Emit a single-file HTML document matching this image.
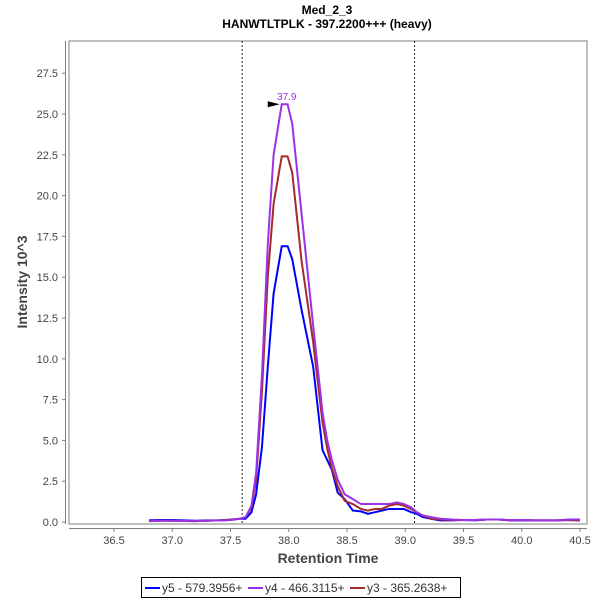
<!DOCTYPE html>
<html><head><meta charset="utf-8"><style>
body{margin:0;background:#fff;}
text{font-family:"Liberation Sans",sans-serif;}
</style></head><body>
<svg id="chart" width="600" height="600" xmlns="http://www.w3.org/2000/svg">
<rect width="600" height="600" fill="#fff"/>
<text x="327" y="14" font-size="12" font-weight="bold" text-anchor="middle">Med_2_3</text>
<text x="327" y="28" font-size="12" font-weight="bold" text-anchor="middle">HANWTLTPLK - 397.2200+++ (heavy)</text>
<rect x="69" y="41" width="518" height="483" fill="#fff" stroke="#808080" stroke-width="1"/>
<line x1="65.5" y1="41" x2="65.5" y2="524" stroke="#808080"/>
<line x1="69" y1="528.5" x2="587" y2="528.5" stroke="#808080"/>
<g id="yticks"></g><g id="xticks"></g>
<text x="328" y="563" font-size="14" font-weight="bold" fill="#444" text-anchor="middle">Retention Time</text>
<text transform="translate(27,282) rotate(-90)" font-size="14" font-weight="bold" fill="#444" text-anchor="middle">Intensity 10^3</text>
<g id="markers"></g>
<g id="series"></g>
<g>
<rect x="141.5" y="577.5" width="319" height="20" fill="#fff" stroke="#000"/>
<line x1="145" y1="588" x2="160" y2="588" stroke="#0000ff" stroke-width="2"/>
<text x="162" y="592" font-size="12" fill="#333">y5 - 579.3956+</text>
<line x1="248" y1="588" x2="263" y2="588" stroke="#9a32e6" stroke-width="2"/>
<text x="265" y="592" font-size="12" fill="#333">y4 - 466.3115+</text>
<line x1="350" y1="588" x2="365" y2="588" stroke="#a52a2a" stroke-width="2"/>
<text x="367" y="592" font-size="12" fill="#333">y3 - 365.2638+</text>
</g>
</svg>
<script>
const times=[36.80,36.9,37.0,37.1,37.2,37.3,37.4,37.5,37.58,37.63,37.68,37.72,37.77,37.82,37.87,37.94,37.99,38.03,38.11,38.21,38.29,38.33,38.37,38.42,38.48,38.55,38.62,38.68,38.74,38.80,38.86,38.93,38.99,39.05,39.10,39.15,39.22,39.30,39.40,39.50,39.60,39.70,39.80,39.90,40.00,40.10,40.20,40.30,40.40,40.50];
const y5=[0.1,0.12,0.12,0.1,0.08,0.1,0.1,0.12,0.2,0.2,0.6,1.7,4.6,9.5,14.0,16.9,16.9,16.1,13.0,9.5,4.4,3.8,3.2,1.8,1.4,0.7,0.65,0.5,0.6,0.7,0.8,0.8,0.8,0.6,0.5,0.3,0.2,0.1,0.1,0.12,0.1,0.15,0.15,0.1,0.1,0.1,0.1,0.1,0.12,0.1];
const y4=[0.05,0.08,0.08,0.06,0.05,0.08,0.1,0.12,0.2,0.3,1.0,3.0,9.0,17.0,22.5,25.6,25.6,24.4,18.9,12.0,6.7,5.0,3.8,2.6,1.7,1.4,1.1,1.1,1.1,1.1,1.1,1.2,1.1,0.9,0.6,0.4,0.3,0.2,0.15,0.12,0.12,0.15,0.15,0.12,0.12,0.1,0.1,0.1,0.15,0.15];
const y3=[0.05,0.08,0.08,0.06,0.05,0.08,0.1,0.15,0.2,0.3,0.9,2.6,8.0,15.0,19.5,22.4,22.4,21.4,16.0,11.0,6.1,4.5,3.3,2.2,1.3,1.1,0.8,0.7,0.8,0.8,1.0,1.1,1.0,0.8,0.6,0.4,0.2,0.15,0.12,0.12,0.12,0.15,0.15,0.1,0.12,0.1,0.1,0.1,0.12,0.1];
const xTicks=["36.5","37.0","37.5","38.0","38.5","39.0","39.5","40.0","40.5"];
const yTicks=["0.0","2.5","5.0","7.5","10.0","12.5","15.0","17.5","20.0","22.5","25.0","27.5"];
const boundaries=[37.6,39.08];
const peakLabel=["37.9"];
const NS="http://www.w3.org/2000/svg";
function X(t){return 114+(t-36.5)*116.5;}
function Y(v){return 522-v*16.32;}
function el(tag,attrs,parent){const e=document.createElementNS(NS,tag);for(const k in attrs)e.setAttribute(k,attrs[k]);parent.appendChild(e);return e;}
const yt=document.getElementById('yticks'),xt=document.getElementById('xticks');
yTicks.forEach(s=>{const y=Y(parseFloat(s));
 const l=el('line',{x1:62,x2:65,y1:y,y2:y,stroke:'#808080'},yt);
 
 
 const t=el('text',{x:58,y:y+4,'font-size':11,fill:'#444','text-anchor':'end'},yt);t.textContent=s;
 
 });
xTicks.forEach(s=>{const x=X(parseFloat(s));
 const l=el('line',{x1:x,x2:x,y1:528,y2:532,stroke:'#808080'},xt);
 
 
 const t=el('text',{x:x,y:544,'font-size':11,fill:'#444','text-anchor':'middle'},xt);t.textContent=s;
 
 });
const mk=document.getElementById('markers');
boundaries.forEach(b=>{const l=el('line',{x1:X(b),x2:X(b),y1:41,y2:524,stroke:'#222','stroke-dasharray':'2,2'},mk);
 
 });
const sg=document.getElementById('series');
[[y5,'#0000ff','series-y5'],[y3,'#a52a2a','series-y3'],[y4,'#9a32e6','series-y4']].forEach(([d,c,n])=>{
 const p=el('polyline',{points:d.map((v,i)=>X(times[i])+','+Y(v)).join(' '),fill:'none',stroke:c,'stroke-width':2},sg);
 
 });
let mi=0;y4.forEach((v,i)=>{if(v>y4[mi])mi=i;});
const px=X(times[mi]),py=Y(y4[mi]);
const ar=el('polygon',{points:`${px-2},${py} ${px-14},${py-3} ${px-14},${py+3}`,fill:'#000'},sg);


const pl=el('text',{x:px+5,y:py-4,'font-size':10,fill:'#9a32e6','text-anchor':'middle'},sg);pl.textContent=peakLabel[0];


</script>
</body></html>
